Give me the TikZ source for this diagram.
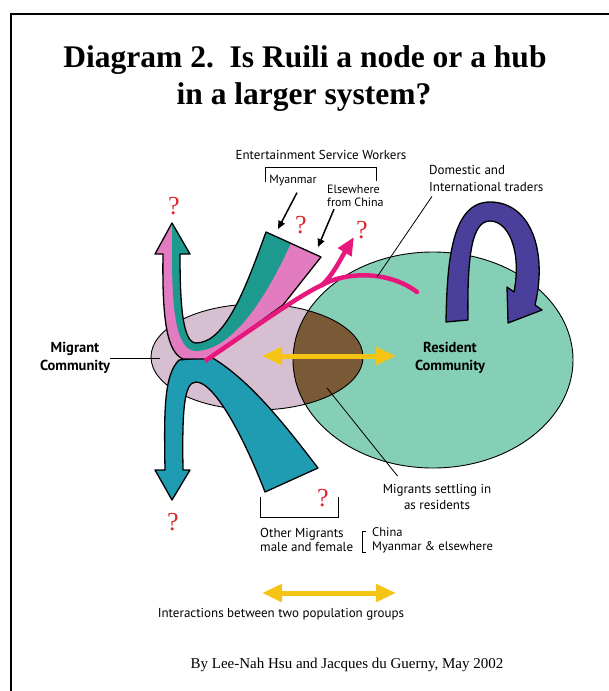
\documentclass[tikz,border=0pt]{standalone}
\usepackage{fontspec}
\setmainfont{Liberation Serif}
\newfontfamily\labelfont{PT Sans}
\usetikzlibrary{arrows.meta}
\definecolor{mauve}{HTML}{D6BFD0}
\definecolor{mint}{HTML}{85CFB6}
\definecolor{earth}{HTML}{7A5A36}
\definecolor{tealg}{HTML}{1C9A8E}
\definecolor{tealb}{HTML}{1F9BB2}
\definecolor{orchid}{HTML}{E27BC0}
\definecolor{hotpink}{HTML}{E8177E}
\definecolor{indigo}{HTML}{4A3F9B}
\definecolor{ylw}{HTML}{F6C415}
\definecolor{qred}{HTML}{E0262C}
\newcommand{\upperband}{(163,254) .. controls (162,320) and (167,352) .. (183,359) -- (208,359) -- (283,305) -- (321,257) -- (266,232) .. controls (245,290) and (225,343) .. (196,343) .. controls (182,343) and (180,300) .. (180,254) -- (190,254) -- (172,223) -- (155,254) -- cycle}
\newcommand{\migrell}{(257,357) ellipse [x radius=106, y radius=53]}
\newcommand{\resell}{(433,360) ellipse [x radius=140, y radius=108]}
\begin{document}
\begin{tikzpicture}[x=1pt, y=-1pt,
  title/.style={font=\fontsize{31.5}{37}\selectfont\bfseries, anchor=base, inner sep=0pt},
  lbl/.style={font=\labelfont\fontsize{13}{16}\selectfont, inner sep=0pt, align=center},
  lblsm/.style={font=\labelfont\fontsize{12}{13.5}\selectfont, inner sep=0pt, align=left},
  lblb/.style={font=\labelfont\bfseries\fontsize{14.5}{17.5}\selectfont, inner sep=0pt, align=center},
  qmark/.style={font=\fontsize{26}{26}\selectfont, text=qred, inner sep=0pt},
  leader/.style={line width=0.8},
  ptr/.style={line width=1.5, -{Triangle[length=8pt,width=7pt]}},
  outl/.style={line width=1.3, line join=round},
  ylwarrow/.style={ylw, line width=5, {Triangle[length=20pt,width=17pt]}-{Triangle[length=20pt,width=17pt]}}]
  \useasboundingbox (0,0) rectangle (609,691);
  \clip (0,0) rectangle (609,691);
  \fill[white] (0,0) rectangle (609,691);
  \draw[line width=2] (11,14) rectangle (640,720);

  \node[title] (title1) at (305,67) {Diagram 2.\ \ Is Ruili a node or a hub};
  \node[title] (title2) at (304,104) {in a larger system?};

  % the two communities
  \fill[mauve] \migrell;
  \fill[mint] \resell;
  \begin{scope}
    \clip \migrell;
    \fill[earth] \resell;
  \end{scope}
  \draw[line width=0.9] \migrell;
  \draw[line width=0.9] \resell;

  % traders going round
  \filldraw[fill=indigo, outl] (446,322) .. controls (447,260) and (452,202) .. (490,202) .. controls (530,202) and (548,250) .. (535,305) -- (542,310) -- (508,323) -- (507,287) -- (514,292) .. controls (522,250) and (508,221) .. (490,221) .. controls (472,221) and (467,255) .. (468,320) -- cycle;

  % other migrants
  \filldraw[fill=tealb, outl] (179,360) .. controls (164,375) and (164,410) .. (165,470) -- (155,470) -- (172,500) -- (190,470) -- (183,470) .. controls (182,410) and (184,382) .. (196,382) .. controls (215,382) and (245,440) .. (265,492) -- (318,468) .. controls (285,425) and (250,380) .. (211,357) -- cycle;

  % entertainment service workers
  \fill[orchid] \upperband;
  \fill[tealg] (172,223) -- (190,254) -- (180,254) .. controls (180,300) and (182,343) .. (196,343) .. controls (225,343) and (245,290) .. (266,232) -- (291,243) .. controls (265,300) and (232,350) .. (196,351) .. controls (176,351) and (172,310) .. (172,254) -- cycle;
  \draw[outl] \upperband;

  \draw[hotpink, line width=4.5, -{Triangle[length=18pt,width=15pt]}] (205,361) .. controls (255,327) and (300,295) .. (322,285) .. controls (333,275) and (340,260) .. (354,237);
  \draw[hotpink, line width=4.5, line cap=round] (322,285) .. controls (345,272) and (388,270) .. (417,292);

  \draw[ylwarrow] (262,356) -- (396,356);

  % labels
  \node[lbl] (esw) at (321,155) {Entertainment Service Workers};
  \draw[line width=1] (265,182) -- (265,167) -- (376,167) -- (376,181);
  \node[lblsm] (mya) at (293,181) {Myanmar};
  \node[lblsm, anchor=west] (elsew) at (327,196) {Elsewhere\\from China};
  \coordinate (myatip) at (278,229);
  \coordinate (elsetip) at (318,247);
  \draw[ptr] ([xshift=4pt,yshift=-6pt]mya.south) -- (myatip);
  \draw[ptr] ([xshift=7pt,yshift=-2pt]elsew.south west) -- (elsetip);

  \node[lbl, anchor=west, align=left, font=\labelfont\fontsize{13}{17}\selectfont] (trad) at (429,178) {Domestic and\\International traders};
  \coordinate (tradpt) at (377,277);
  \draw[leader] ([xshift=3pt,yshift=-5pt]trad.south west) -- (tradpt);

  \node[lblb] (migr) at (75,358) {Migrant\\Community};
  \coordinate (migrpt) at (160,358);
  \draw[leader] (migr.east) -- (migrpt);
  \node[lblb] (resid) at (450,358) {Resident\\Community};

  \node[lbl] (settle) at (437,497) {Migrants settling in\\as residents};
  \coordinate (settlept) at (327,388);
  \draw[leader] (settlept) -- ([xshift=15pt,yshift=8pt]settle.north west);

  \draw[line width=1] (260,497) -- (260,517) -- (338,517) -- (338,497);
  \node[lbl, anchor=west, align=left, font=\labelfont\fontsize{13}{14}\selectfont] (other) at (260,540) {Other Migrants\\male and female};
  \draw[line width=0.8] (366,531) -- (362,531) -- (362,552) -- (366,552);
  \node[lblsm, anchor=west, font=\labelfont\fontsize{12.5}{14}\selectfont] (orig) at (372,540) {China\\Myanmar \& elsewhere};

  \node[qmark] (q1) at (174,206) {?};
  \node[qmark] (q2) at (301,225) {?};
  \node[qmark] (q3) at (362,230) {?};
  \node[qmark] (q4) at (323,498) {?};
  \node[qmark] (q5) at (173,522) {?};

  \draw[ylwarrow] (262,593) -- (396,593);
  \node[lbl] (inter) at (281,614) {Interactions between two population groups};

  \node[font=\fontsize{15}{18}\selectfont, anchor=base, inner sep=0pt] (credit) at (347,668) {By Lee-Nah Hsu and Jacques du Guerny, May 2002};
\end{tikzpicture}
\end{document}
